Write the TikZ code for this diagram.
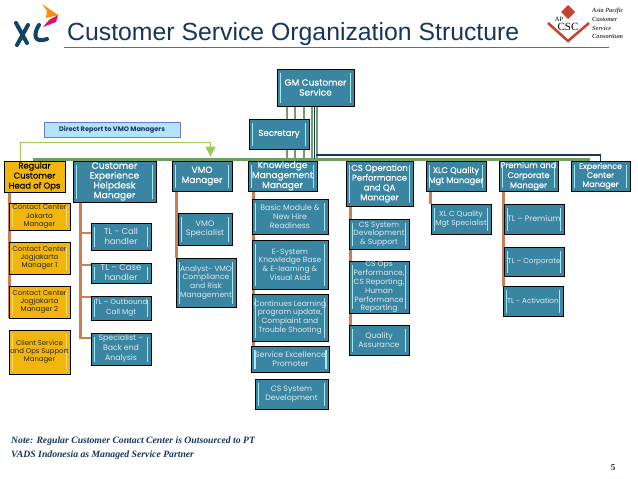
\documentclass[tikz,border=0pt]{standalone}
\usepackage{fontspec}
\setmainfont{Poppins}
\newfontfamily\titlefont{Liberation Sans}
\newfontfamily\notefont{Liberation Serif}
\newfontfamily\mgrfont{Poppins}[FakeBold=0.3]
\usetikzlibrary{arrows.meta,calc,backgrounds}
\definecolor{tealfill}{HTML}{3A86A2}
\definecolor{barcyan}{HTML}{A6E8F2}
\definecolor{goldfill}{HTML}{F2B50C}
\definecolor{barygold}{HTML}{FBDD6E}
\definecolor{navyline}{HTML}{17365D}
\definecolor{busgreen}{HTML}{6F9F63}
\definecolor{limegreen}{HTML}{9BCB55}
\definecolor{branchorange}{HTML}{C77F55}
\definecolor{logored}{HTML}{C8402F}
\begin{document}
\begin{tikzpicture}[
x=1pt,y=-1pt,
orgbox/.style={draw=black,line width=0.8pt,fill=tealfill,text=white,align=center,inner sep=0pt,font=\mgrfont\fontsize{9}{10}\selectfont,
  path picture={\draw[barcyan,line width=1.2pt]
    ($(path picture bounding box.north west)+(3.5,3.5)$) -- ($(path picture bounding box.south west)+(3.5,-3.5)$)
    ($(path picture bounding box.north east)+(-3.5,3.5)$) -- ($(path picture bounding box.south east)+(-3.5,-3.5)$);}},
subbox/.style={orgbox,text=white!82!tealfill,font=\fontsize{7.8}{8.8}\selectfont},
headbox/.style={orgbox,fill=goldfill,text=black,
  path picture={}},
sitebox/.style={orgbox,fill=goldfill,text=black!85,font=\fontsize{7}{8.2}\selectfont,
  path picture={\draw[barygold,line width=1.2pt]
    ($(path picture bounding box.north west)+(3.5,3.5)$) -- ($(path picture bounding box.south west)+(3.5,-3.5)$)
    ($(path picture bounding box.north east)+(-3.5,3.5)$) -- ($(path picture bounding box.south east)+(-3.5,-3.5)$);}},
greenline/.style={draw=busgreen,line width=2.8pt},
navyarm/.style={draw=navyline,line width=1.5pt},
branch/.style={draw=branchorange,line width=2.5pt},
vmoarrow/.style={draw=limegreen,line width=1.3pt,-{Triangle[length=10pt,width=10pt,fill=limegreen]}}
]
\useasboundingbox (0,0) rectangle (638,479);

\node[anchor=base west,text=navyline,font=\titlefont\fontsize{24.8}{28}\selectfont,inner sep=0pt] (title) at (67,40) {Customer Service Organization Structure};
\coordinate (ruleleft) at (64,47.5);
\coordinate (ruleright) at (609,47.5);
\draw[draw=navyline!70!blue!70!white,line width=1.2pt] (ruleleft) -- (ruleright);

\fill[orange!90!yellow] (42,4) -- (58,15) -- (46,18) -- (47,11) -- cycle;
\fill[magenta!70!red] (58,15) -- (56,22) -- (43,27) -- (49,20) -- cycle;
\draw[navyline!80!teal,line width=4pt,line cap=round] (16,23) -- (27,43) (28,25) -- (17,45);
\draw[navyline!80!teal,line width=4pt,line cap=round] (39,25) .. controls (33,34) and (34,44) .. (47,39);

\fill[logored] (568,5) -- (575,12) -- (568,19) -- (561,12) -- cycle;
\draw[logored,line width=2.5pt] (548,23) -- (568,41) -- (589,23);
\node[font=\notefont\fontsize{6.5}{7}\selectfont,inner sep=0pt] (aplabel) at (559,19) {AP};
\node[font=\notefont\fontsize{11}{12}\selectfont,inner sep=0pt] (csclabel) at (568,27) {CSC};
\node[anchor=north west,align=left,inner sep=0pt,text=black!75,font=\notefont\bfseries\itshape\fontsize{6.3}{8.7}\selectfont] (apcsc) at (592,8) {Asia Pacific\\Customer\\Service\\Consortium};

\node[orgbox,minimum width=77pt,minimum height=37pt] (gm) at (315.5,87.5) {GM Customer\\Service};
\node[draw=navyline!60!blue!60!white,line width=1pt,fill=blue!35!cyan!30!white,text=navyline,inner sep=0pt,minimum width=136pt,minimum height=15pt,font=\bfseries\fontsize{6.6}{7}\selectfont] (direct) at (112,129.5) {Direct Report to VMO Managers};

\node[headbox,minimum width=61pt,minimum height=31pt,font=\mgrfont\fontsize{8.4}{10}\selectfont] (headops) at (34.5,176.5) {Regular\\Customer\\Head of Ops};
\node[orgbox,minimum width=83pt,minimum height=41pt,font=\mgrfont\fontsize{9.2}{9.8}\selectfont] (helpdesk) at (114.5,181.5) {Customer\\Experience\\Helpdesk\\Manager};
\node[orgbox,minimum width=60pt,minimum height=30pt] (vmo) at (202,176) {VMO\\Manager};
\node[orgbox,minimum width=69pt,minimum height=30pt] (knowledge) at (282.5,176) {Knowledge\\Management\\Manager};
\node[orgbox,minimum width=67pt,minimum height=45pt,font=\mgrfont\fontsize{8.5}{9.8}\selectfont] (csop) at (379.5,183.5) {CS Operation\\Performance\\and QA\\Manager};
\node[orgbox,minimum width=60pt,minimum height=30pt,font=\mgrfont\fontsize{8.2}{10}\selectfont] (xlc) at (456,176) {XLC Quality\\Mgt Manager};
\node[orgbox,minimum width=59pt,minimum height=30pt,font=\mgrfont\fontsize{8.2}{10}\selectfont] (premium) at (528.5,176) {Premium and\\Corporate\\Manager};
\node[orgbox,minimum width=59pt,minimum height=30pt,font=\mgrfont\fontsize{8}{9}\selectfont] (expcenter) at (600.5,176) {Experience\\Center\\Manager};

\begin{scope}[on background layer]
\fill[white] (0,0) rectangle (638,479);
\draw[greenline] (gm.south -| 287,0) -- (287,161);
\draw[greenline] (gm.south -| 295,0) -- (295,161);
\draw[greenline] (gm.south -| 304,0) -- (304,161);
\draw[greenline] (gm.south -| 312,0) -- (312,161);
\draw[greenline] (33,159.5) -- (590,159.5);
\draw[draw=navyline,line width=1.2pt] (gm.south -| 314.5,0) -- (314.5,159);
\draw[draw=busgreen,line width=1.2pt] (gm.south -| 317,0) -- (317,159);
\coordinate (armstart) at (316,155);
\draw[navyarm] (armstart) -| (expcenter.north);
\end{scope}

\node[orgbox,minimum width=60pt,minimum height=30pt,font=\mgrfont\fontsize{8.6}{10}\selectfont] (secretary) at (279,134) {Secretary};

\coordinate (limestart) at ([xshift=-14pt]headops.north);
\coordinate (limetip) at ([xshift=8.5pt,yshift=4pt]vmo.north);
\draw[vmoarrow] (limestart) -- ++(0,-18) -| (limetip);

\node[sitebox,minimum width=61pt,minimum height=27pt] (jakarta) at (39.5,216.5) {Contact Center\\Jakarta\\Manager};
\node[sitebox,minimum width=61pt,minimum height=32pt] (jogone) at (39.5,258) {Contact Center\\Jogjakarta\\Manager 1};
\node[sitebox,minimum width=61pt,minimum height=32pt] (jogtwo) at (39.5,302) {Contact Center\\Jogjakarta\\Manager 2};
\node[sitebox,minimum width=61pt,minimum height=44pt,font=\fontsize{6.9}{8.2}\selectfont] (client) at (39.5,352) {Client Service\\and Ops Support\\Manager};

\node[subbox,minimum width=60pt,minimum height=27pt,font=\fontsize{8.5}{10}\selectfont] (tlcall) at (121,236.5) {TL - Call\\handler};
\node[subbox,minimum width=60pt,minimum height=20pt,font=\fontsize{8.5}{10}\selectfont] (tlcase) at (121,273) {TL – Case\\handler};
\node[subbox,minimum width=60pt,minimum height=24pt,font=\fontsize{7.3}{10}\selectfont] (outbound) at (121,308) {TL – Outbound\\Call Mgt};
\node[subbox,minimum width=60pt,minimum height=32pt,font=\fontsize{7.8}{10}\selectfont] (specialist) at (121,349) {Specialist –\\Back end\\Analysis};

\node[subbox,minimum width=54pt,minimum height=32pt,font=\fontsize{8}{9}\selectfont] (vmospec) at (205,229) {VMO\\Specialist};
\node[subbox,minimum width=60pt,minimum height=49pt,font=\fontsize{7.6}{8.8}\selectfont] (analyst) at (206,282.5) {Analyst- VMO\\Compliance\\and Risk\\Management};

\node[subbox,minimum width=76pt,minimum height=35pt] (basic) at (290,216.5) {Basic Module \&\\New Hire\\Readiness};
\node[subbox,minimum width=76pt,minimum height=49pt,font=\fontsize{7.6}{8.7}\selectfont] (esystem) at (290,264.5) {E-System\\Knowledge Base\\\& E-learning \&\\Visual Aids};
\node[subbox,minimum width=76pt,minimum height=47pt,font=\fontsize{7.5}{8.7}\selectfont] (continues) at (290,317.5) {Continues Learning\\program update,\\Complaint and\\Trouble Shooting};
\node[subbox,minimum width=78pt,minimum height=26pt,font=\fontsize{7.8}{9}\selectfont] (service) at (290.5,359) {Service Excellence\\Promoter};
\node[subbox,minimum width=73pt,minimum height=30pt] (csdev) at (291.5,394) {CS System\\Development};

\node[subbox,minimum width=60pt,minimum height=30pt,font=\fontsize{7.6}{8.4}\selectfont] (cssupport) at (379,234) {CS System\\Development\\\& Support};
\node[subbox,minimum width=60pt,minimum height=50pt,font=\fontsize{7.6}{8.9}\selectfont] (csops) at (379,287) {CS Ops\\Performance,\\CS Reporting,\\Human\\Performance\\Reporting};
\node[subbox,minimum width=60pt,minimum height=30pt] (quality) at (379,340) {Quality\\Assurance};

\node[subbox,minimum width=60pt,minimum height=30pt,font=\fontsize{7.4}{9}\selectfont] (xlcspec) at (461,219) {XL C Quality\\Mgt Specialist};
\node[subbox,minimum width=60pt,minimum height=30pt,font=\fontsize{7.9}{9}\selectfont] (tlpremium) at (534,219) {TL – Premium};
\node[subbox,minimum width=60pt,minimum height=29pt,font=\fontsize{7.2}{9}\selectfont] (tlcorp) at (534,261.5) {TL – Corporate};
\node[subbox,minimum width=60pt,minimum height=30pt,font=\fontsize{7.3}{9}\selectfont] (tlactive) at (533,301) {TL - Activation};

\begin{scope}[on background layer]
\draw[branch] ([xshift=6pt]headops.south west) -- ([xshift=6pt]headops.south west |- jogtwo.south);
\coordinate (cxtrunk) at ([xshift=8pt]helpdesk.south west);
\draw[branch] (cxtrunk) |- ([yshift=3.5pt]tlcall.west);
\draw[branch] (cxtrunk) |- ([yshift=8pt]tlcase.west);
\draw[branch] (cxtrunk) |- ([yshift=11pt]outbound.west);
\draw[branch] (cxtrunk) |- ([yshift=11pt]specialist.west);
\draw[branch] ([xshift=5pt]vmo.south west) -- ([xshift=5pt]vmo.south west |- analyst.north);
\draw[branch] ([xshift=6pt]knowledge.south west) -- ([xshift=6pt]knowledge.south west |- service.north);
\draw[branch] ([xshift=5pt]csop.south west) -- ([xshift=5pt]csop.south west |- quality.north);
\draw[branch] ([xshift=5pt]xlc.south west) -- ([xshift=5pt]xlc.south west |- xlcspec.north);
\draw[branch] ([xshift=5pt]premium.south west) -- ([xshift=5pt]premium.south west |- tlactive.north);
\end{scope}

\node[anchor=north west,align=left,inner sep=0pt,text=navyline,font=\notefont\bfseries\itshape\fontsize{9.7}{14}\selectfont] (note) at (11,436.5) {Note: Regular Customer Contact Center is Outsourced to PT\\VADS Indonesia as Managed Service Partner};
\node[text=navyline!80!black,font=\notefont\bfseries\fontsize{9}{10}\selectfont,inner sep=0pt] (pagenum) at (613,468) {5};
\end{tikzpicture}
\end{document}
